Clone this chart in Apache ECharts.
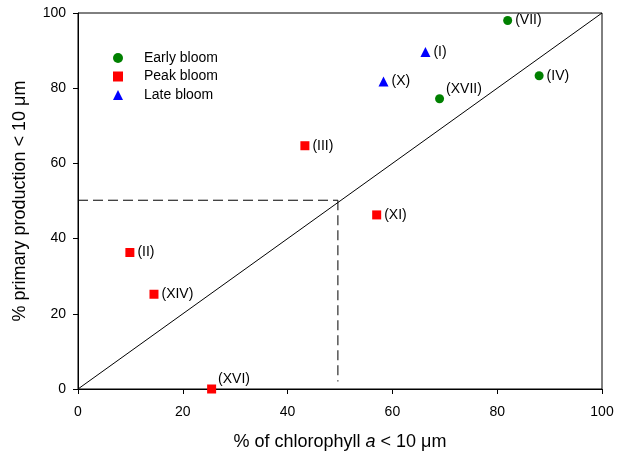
<!DOCTYPE html>
<html>
<head>
<meta charset="utf-8">
<script src="https://cdn.jsdelivr.net/npm/echarts@6/dist/echarts.min.js"></script>
<style>
  html, body { margin: 0; padding: 0; background: #fff; }
  #chart { width: 618px; height: 454px; }
</style>
</head>
<body>
<div id="chart"></div>
<script>
// Size-fractionated chlorophyll vs primary production, grouped by bloom stage
const earlyBloom = [
  { name: '(VII)', x: 82, y: 98 },
  { name: '(IV)', x: 88, y: 83.3 },
  { name: '(XVII)', x: 69, y: 77.2 }
];
const peakBloom = [
  { name: '(III)', x: 43.3, y: 64.7 },
  { name: '(XI)', x: 57, y: 46.3 },
  { name: '(II)', x: 9.9, y: 36.3 },
  { name: '(XIV)', x: 14.5, y: 25.2 },
  { name: '(XVI)', x: 25.5, y: 0 }
];
const lateBloom = [
  { name: '(I)', x: 66.3, y: 89.6 },
  { name: '(X)', x: 58.3, y: 81.8 }
];
// 1:1 reference line and the 50 % guide lines
const oneToOne = [[0, 0], [100, 100]];
const guideH = [[0, 50.2], [49.6, 50.2]];
const guideV = [[49.6, 50.2], [49.6, 2]];
const axisTicks = [0, 20, 40, 60, 80, 100];

// Labels that sit above the marker instead of beside it
const raisedLabels = ['(XVII)', '(XVI)'];

const FONT = 'Liberation Sans, Arial, sans-serif';

function toPoints(list) {
  return list.map(p => {
    const item = { name: p.name, value: [p.x, p.y] };
    if (raisedLabels.includes(p.name)) {
      item.label = { offset: [-1, -10] };
    }
    return item;
  });
}

const pointLabel = {
  show: true,
  position: 'right',
  distance: 3,
  formatter: '{b}',
  color: '#000',
  fontFamily: FONT,
  fontSize: 14
};

const chart = echarts.init(document.getElementById('chart'), null, { renderer: 'canvas' });

chart.setOption({
  animation: false,
  backgroundColor: '#fff',
  grid: {
    left: 78, right: 16, top: 13, bottom: 65,
    outerBoundsMode: 'none',
    containLabel: false,
    show: true, borderColor: '#000', borderWidth: 1, backgroundColor: 'transparent'
  },
  legend: {
    orient: 'vertical',
    left: 108,
    top: 46,
    itemWidth: 10,
    itemHeight: 10,
    itemGap: 4.5,
    textStyle: { fontFamily: FONT, fontSize: 14, color: '#000', lineHeight: 14, padding: [0, 0, 0, 16] },
    data: ['Early bloom', 'Peak bloom', 'Late bloom']
  },
  xAxis: {
    type: 'value',
    min: 0, max: 100, interval: 20,
    name: '% of chlorophyll {i|a} < 10 μm',
    nameLocation: 'middle',
    nameGap: 44,
    nameTextStyle: {
      fontFamily: FONT, fontSize: 18, color: '#000',
      rich: { i: { fontStyle: 'italic', fontFamily: FONT, fontSize: 18, color: '#000' } }
    },
    axisLine: { show: true, onZero: false, lineStyle: { color: '#000', width: 1 } },
    axisTick: { show: true, inside: false, length: 5, lineStyle: { color: '#000' } },
    axisLabel: { fontFamily: FONT, fontSize: 14, color: '#000', margin: 16,
      formatter: v => axisTicks.includes(v) ? String(v) : '' },
    splitLine: { show: false }
  },
  yAxis: {
    type: 'value',
    min: 0, max: 100, interval: 20,
    name: '% primary production < 10 μm',
    nameLocation: 'middle',
    nameGap: 49,
    nameTextStyle: { fontFamily: FONT, fontSize: 18, color: '#000' },
    axisLine: { show: true, onZero: false, lineStyle: { color: '#000', width: 1 } },
    axisTick: { show: true, inside: false, length: 5, lineStyle: { color: '#000' } },
    axisLabel: { fontFamily: FONT, fontSize: 14, color: '#000', margin: 12,
      formatter: v => axisTicks.includes(v) ? String(v) : '' },
    splitLine: { show: false }
  },
  series: [
    {
      type: 'line', data: oneToOne, symbol: 'none', silent: true,
      lineStyle: { color: '#000', width: 1 }, z: 1
    },
    {
      type: 'line', data: guideH, symbol: 'none', silent: true,
      lineStyle: { color: '#000', width: 1, type: [10, 5] }, z: 1
    },
    {
      type: 'line', data: guideV, symbol: 'none', silent: true,
      lineStyle: { color: '#000', width: 1, type: [10, 5] }, z: 1
    },
    {
      name: 'Early bloom', type: 'scatter', symbol: 'circle', symbolSize: 9,
      itemStyle: { color: '#008000', opacity: 1 },
      label: pointLabel, data: toPoints(earlyBloom), z: 3
    },
    {
      name: 'Peak bloom', type: 'scatter', symbol: 'rect', symbolSize: 9,
      itemStyle: { color: '#ff0000', opacity: 1 },
      label: pointLabel, data: toPoints(peakBloom), z: 3
    },
    {
      name: 'Late bloom', type: 'scatter', symbol: 'triangle', symbolSize: 10,
      itemStyle: { color: '#0000ff', opacity: 1 },
      label: pointLabel, data: toPoints(lateBloom), z: 3
    }
  ]
});
</script>
</body>
</html>
